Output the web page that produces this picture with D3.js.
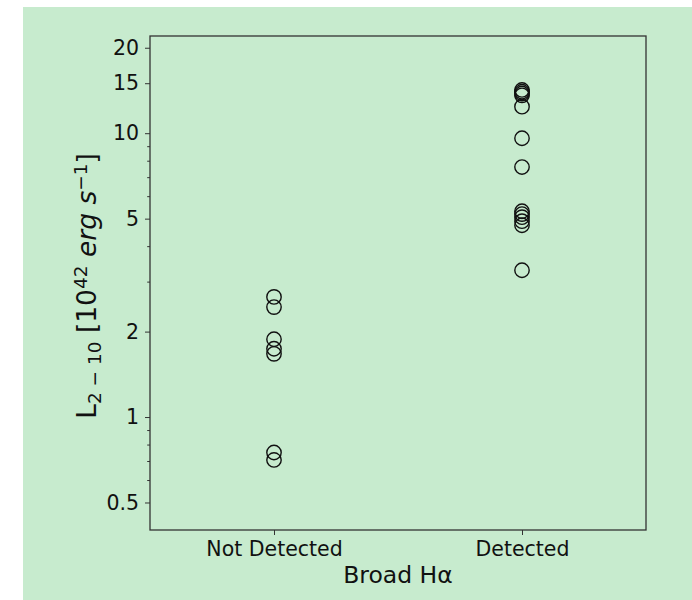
<!DOCTYPE html>
<html>
<head>
<meta charset="utf-8">
<script src="https://cdn.jsdelivr.net/npm/d3@7"></script>
<style>
  body { margin: 0; background: #fff; overflow: hidden; }
  svg { display: block; }
  text { font-family: "DejaVu Sans", sans-serif; fill: #111; }
</style>
</head>
<body>
<div id="chart"></div>
<script>
const W = 692
const H = 600

const categories = ['Not Detected', 'Detected']
const notDetected = [2.65, 2.44, 1.88, 1.74, 1.67, 0.75, 0.706]
const detected = [14.2, 14.0, 13.8, 13.6, 12.4, 9.6, 7.6, 5.31, 5.19, 5.06, 4.9, 4.74, 3.29]
const majorTicks = [0.5, 1, 2, 5, 10, 15, 20]
const minorTicks = [0.6, 0.7, 0.8, 0.9, 3, 4, 6, 7, 8, 9]

const m = { left: 150, top: 36, right: 646, bottom: 530 }

const x = d3.scaleLinear().domain([-0.5, 1.5]).range([m.left, m.right])
const y = d3.scaleLog().domain([0.4, 22]).range([m.bottom, m.top])

const svg = d3.select('#chart').append('svg')
  .attr('width', W)
  .attr('height', H)

svg.append('rect')
  .attr('x', 23).attr('y', 7)
  .attr('width', W - 23).attr('height', H - 7)
  .attr('fill', '#c7ebce')

// y axis, major + minor
const yAxis = d3.axisLeft(y)
  .tickValues(majorTicks)
  .tickFormat(d3.format('~g'))
  .tickSize(5)
  .tickPadding(6)

const yMinor = d3.axisLeft(y)
  .tickValues(minorTicks)
  .tickFormat('')
  .tickSize(2.8)

const xAxis = d3.axisBottom(x)
  .tickValues([0, 1])
  .tickFormat(i => categories[i])
  .tickSize(5)
  .tickPadding(6)

const $y = svg.append('g')
  .attr('transform', `translate(${m.left},0)`)
  .call(yAxis)
svg.append('g')
  .attr('transform', `translate(${m.left},0)`)
  .call(yMinor)
const $x = svg.append('g')
  .attr('transform', `translate(0,${m.bottom})`)
  .call(xAxis)

svg.selectAll('.domain').remove()
svg.selectAll('.tick line').attr('stroke', '#333').attr('stroke-width', 1)
$y.selectAll('text').style('font-size', '20.5px').style('font-family', 'DejaVu Sans')
$x.selectAll('text').style('font-size', '20.5px').style('font-family', 'DejaVu Sans')

svg.append('rect')
  .attr('x', m.left).attr('y', m.top)
  .attr('width', m.right - m.left).attr('height', m.bottom - m.top)
  .attr('fill', 'none')
  .attr('stroke', '#333')
  .attr('stroke-width', 1.3)

const pts = notDetected.map(v => ({ c: 0, v }))
  .concat(detected.map(v => ({ c: 1, v })))

svg.append('g').selectAll('circle')
  .data(pts)
  .join('circle')
  .attr('cx', d => x(d.c))
  .attr('cy', d => y(d.v))
  .attr('r', 7.2)
  .attr('fill', 'none')
  .attr('stroke', '#111')
  .attr('stroke-width', 1.4)

// axis labels
svg.append('text')
  .attr('x', (m.left + m.right) / 2)
  .attr('y', 583)
  .attr('text-anchor', 'middle')
  .style('font-size', '23.5px')
  .text('Broad Hα')

const yl = svg.append('text')
  .attr('transform', `translate(96,${(m.top + m.bottom) / 2 + 3}) rotate(-90)`)
  .attr('text-anchor', 'middle')
  .style('font-size', '26.5px')
yl.append('tspan').text('L')
yl.append('tspan').attr('baseline-shift', '-25%').style('font-size', '18.5px').text('2 − 10')
yl.append('tspan').text(' [10')
yl.append('tspan').attr('baseline-shift', '45%').style('font-size', '18.5px').text('42')
yl.append('tspan').text(' ')
yl.append('tspan').style('font-style', 'italic').text('erg s')
yl.append('tspan').attr('baseline-shift', '45%').style('font-size', '18.5px').text('−1')
yl.append('tspan').text(']')
</script>
</body>
</html>
